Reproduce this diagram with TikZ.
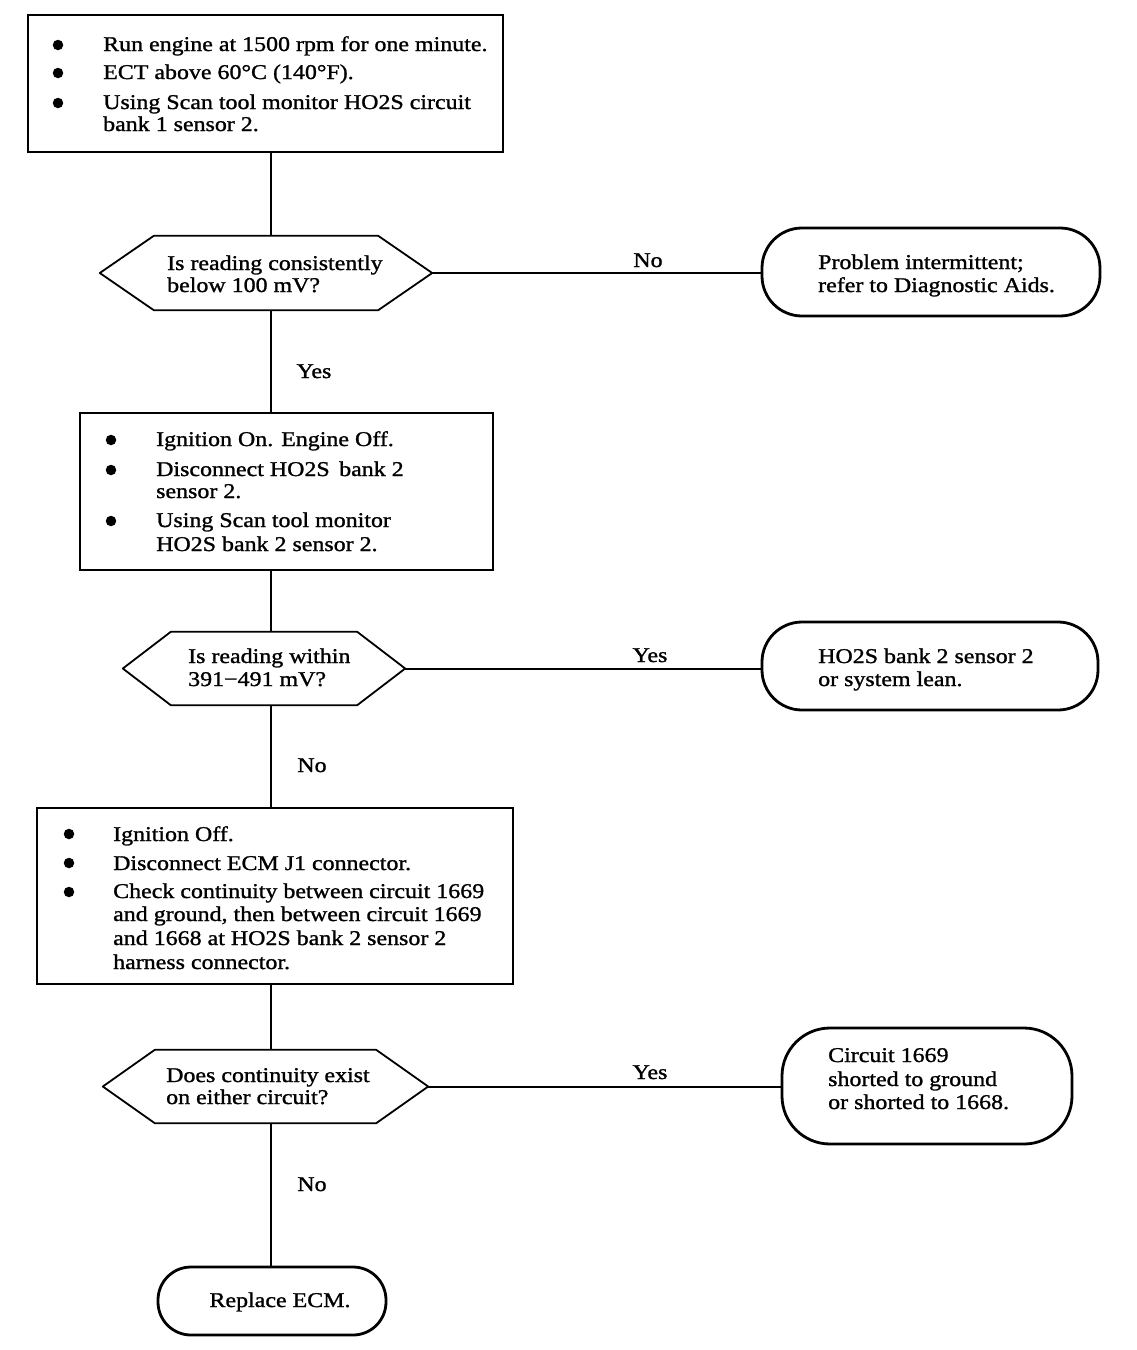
\documentclass[tikz,border=0pt]{standalone}
\usepackage{fontspec}
\setmainfont{Liberation Serif}[FakeStretch=1.14,FakeBold=1.2]
\newcommand\fs{\fontsize{21}{23}\selectfont}
\begin{document}
\begin{tikzpicture}[x=1pt,y=-1pt,
  box/.style={draw, line width=1.8pt, inner sep=0pt},
  term/.style={draw, line width=2.8pt, rounded corners=40pt, inner sep=0pt},
  decn/.style={inner sep=0pt},
  hexline/.style={line width=1.8pt, line join=round},
  conn/.style={line width=2pt},
  txt/.style={anchor=base west, inner sep=0pt, font=\fs},
  lbl/.style={anchor=base, inner sep=0pt, font=\fs},
  dot/.style={circle, fill, inner sep=0pt, minimum size=10.5pt}]
\fill[white] (0,0) rectangle (1136,1350);
\useasboundingbox (0,0) rectangle (1136,1350);
\coordinate (sp) at (271,0);

% ---------- box 1
\node[box, minimum width=475pt, minimum height=137pt] (b1) at (265.5,83.5) {};
\node[dot] (b1a) at (58,45) {};
\node[dot] (b1b) at (58,73) {};
\node[dot] (b1c) at (58,103) {};
\node[txt] (b1t1) at (103,51) {Run engine at 1500 rpm for one minute.};
\node[txt] (b1t2) at (103,79) {ECT above 60°C (140°F).};
\node[txt] (b1t3) at (103,109) {Using Scan tool monitor HO2S circuit};
\node[txt] (b1t4) at (103,131) {bank 1 sensor 2.};

% ---------- decision 1
\node[decn, minimum width=332pt, minimum height=74pt] (d1) at (266,273) {};
\draw[hexline] (d1.west) -- ([xshift=54pt]d1.north west) -- ([xshift=-54pt]d1.north east) -- (d1.east) -- ([xshift=-54pt]d1.south east) -- ([xshift=54pt]d1.south west) -- cycle;
\node[txt] (d1t1) at (167,270) {Is reading consistently};
\node[txt] (d1t2) at (167,292) {below 100 mV?};

% ---------- terminal 1
\node[term, minimum width=338pt, minimum height=88pt] (t1) at (931,272) {};
\node[txt] (t1t1) at (818,269) {Problem intermittent;};
\node[txt] (t1t2) at (818,292) {refer to Diagnostic Aids.};

% ---------- box 2
\node[box, minimum width=413pt, minimum height=157pt] (b2) at (286.5,491.5) {};
\node[dot] (b2a) at (111,440) {};
\node[dot] (b2b) at (111,470) {};
\node[dot] (b2c) at (111,521) {};
\node[txt] (b2t1) at (156,446) {Ignition On. Engine Off.};
\node[txt] (b2t2) at (156,476) {Disconnect HO2S\, bank 2};
\node[txt] (b2t3) at (156,498) {sensor 2.};
\node[txt] (b2t4) at (156,527) {Using Scan tool monitor};
\node[txt] (b2t5) at (156,551) {HO2S bank 2 sensor 2.};

% ---------- decision 2
\node[decn, minimum width=282pt, minimum height=73pt] (d2) at (264,668.5) {};
\draw[hexline] (d2.west) -- ([xshift=48pt]d2.north west) -- ([xshift=-48pt]d2.north east) -- (d2.east) -- ([xshift=-48pt]d2.south east) -- ([xshift=48pt]d2.south west) -- cycle;
\node[txt] (d2t1) at (188,663) {Is reading within};
\node[txt] (d2t2) at (188,686) {391−491 mV?};

% ---------- terminal 2
\node[term, minimum width=336pt, minimum height=88pt] (t2) at (930,666) {};
\node[txt] (t2t1) at (818,663) {HO2S bank 2 sensor 2};
\node[txt] (t2t2) at (818,686) {or system lean.};

% ---------- box 3
\node[box, minimum width=476pt, minimum height=176pt] (b3) at (275,896) {};
\node[dot] (b3a) at (69,834) {};
\node[dot] (b3b) at (69,863) {};
\node[dot] (b3c) at (69,892) {};
\node[txt] (b3t1) at (113,841) {Ignition Off.};
\node[txt] (b3t2) at (113,870) {Disconnect ECM J1 connector.};
\node[txt] (b3t3) at (113,898) {Check continuity between circuit 1669};
\node[txt] (b3t4) at (113,921) {and ground, then between circuit 1669};
\node[txt] (b3t5) at (113,945) {and 1668 at HO2S bank 2 sensor 2};
\node[txt] (b3t6) at (113,969) {harness connector.};

% ---------- decision 3
\node[decn, minimum width=325pt, minimum height=73pt] (d3) at (265.5,1086.5) {};
\draw[hexline] (d3.west) -- ([xshift=52pt]d3.north west) -- ([xshift=-52pt]d3.north east) -- (d3.east) -- ([xshift=-52pt]d3.south east) -- ([xshift=52pt]d3.south west) -- cycle;
\node[txt] (d3t1) at (166,1082) {Does continuity exist};
\node[txt] (d3t2) at (166,1104) {on either circuit?};

% ---------- terminal 3
\node[term, rounded corners=48pt, minimum width=290pt, minimum height=116pt] (t3) at (927,1086) {};
\node[txt] (t3t1) at (828,1062) {Circuit 1669};
\node[txt] (t3t2) at (828,1086) {shorted to ground};
\node[txt] (t3t3) at (828,1109) {or shorted to 1668.};

% ---------- terminal 4
\node[term, rounded corners=33pt, minimum width=228pt, minimum height=68pt] (t4) at (272,1301) {};
\node[lbl] (t4t) at (280,1307) {Replace ECM.};

% ---------- connectors
\draw[conn] (b1.south -| sp) -- (d1.north -| sp);
\draw[conn] (d1.south -| sp) -- (b2.north -| sp);
\draw[conn] (b2.south -| sp) -- (d2.north -| sp);
\draw[conn] (d2.south -| sp) -- (b3.north -| sp);
\draw[conn] (b3.south -| sp) -- (d3.north -| sp);
\draw[conn] (d3.south -| sp) -- (t4.north -| sp);
\draw[conn] (d1.east) -- (d1.east -| t1.west);
\draw[conn] (d2.east) -- (d2.east -| t2.west);
\draw[conn] (d3.east) -- (d3.east -| t3.west);

% ---------- labels
\node[lbl] (l1) at (648,267) {No};
\node[lbl] (l2) at (314,378) {Yes};
\node[lbl] (l3) at (650,662) {Yes};
\node[lbl] (l4) at (312,772) {No};
\node[lbl] (l5) at (650,1079) {Yes};
\node[lbl] (l6) at (312,1191) {No};
\end{tikzpicture}
\end{document}
